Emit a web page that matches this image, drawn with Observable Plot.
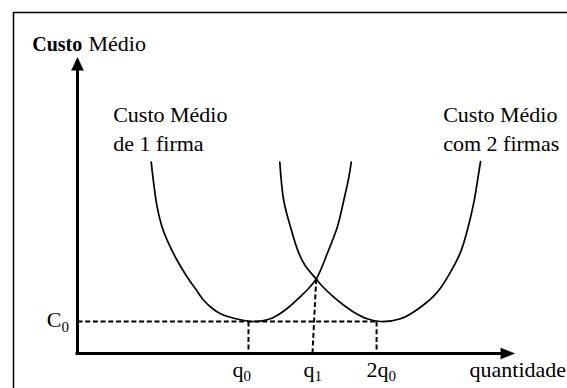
<!DOCTYPE html>
<html>
<head>
<meta charset="utf-8">
<script src="https://cdn.jsdelivr.net/npm/d3@7"></script>
<script src="https://cdn.jsdelivr.net/npm/@observablehq/plot@0.6"></script>
<style>
  html, body { margin: 0; padding: 0; background: #fff; }
  #chart svg { display: block; }
</style>
</head>
<body>
<div id="chart"></div>
<script>
// ---- values (quantity units: q0 = 10; cost units: C0 = 10) ----
const q0 = 10.0;
const q1 = 13.74;
const twoQ0 = 17.49;
const C0 = 10.0;
const intersectionX = 13.96;
const intersectionY = 23.28;
const xAxisEnd = 25.56;
const yAxisEnd = 92.5;

// Custo Médio de 1 firma
const curve1X = [4.31, 4.46, 4.66, 4.95, 5.34, 5.83, 6.42, 6.90, 7.39, 7.89, 8.36, 9.14, 9.92, 10.29, 10.82, 11.40, 12.26, 13.04, 13.51, 13.96, 14.33, 14.60, 15.19, 15.57, 15.87, 16.01];
const curve1Y = [59.78, 53.03, 45.72, 39.47, 34.28, 29.06, 23.84, 20.22, 16.56, 14.06, 12.41, 11.0, 10.16, 10.0, 10.22, 11.09, 14.06, 17.81, 20.31, 23.28, 27.5, 31.16, 39.47, 47.81, 55.09, 59.78];

// Custo Médio com 2 firmas
const curve2X = [11.83, 12.06, 12.46, 12.92, 13.31, 13.96, 14.33, 14.99, 15.67, 16.16, 16.94, 17.72, 18.89, 20.06, 21.04, 21.81, 22.40, 22.82, 23.18, 23.41, 23.57];
const curve2Y = [59.78, 47.81, 39.47, 31.66, 27.5, 23.28, 20.94, 17.59, 14.69, 12.91, 10.84, 10.0, 10.84, 14.47, 19.16, 25.41, 31.66, 38.97, 47.28, 54.59, 60.0];

// tick labels
const tickValues = [q0, q1, twoQ0];
const tickBase = ["q", "q", "2q"];
const tickSub = ["0", "1", "0"];
const yTickBase = "C";
const yTickSub = "0";

// texts
const yTitleBold = "Custo";
const yTitleRest = "Médio";
const xTitle = "quantidade";
const label1 = "Custo Médio\nde 1 firma";
const label2 = "Custo Médio\ncom 2 firmas";

// ---- build tables ----
const curve1 = curve1X.map((x, i) => ({x, y: curve1Y[i]}));
const curve2 = curve2X.map((x, i) => ({x, y: curve2Y[i]}));
const dashes = [
  {x1: 0, y1: C0, x2: twoQ0, y2: C0},
  {x1: q0, y1: C0, x2: q0, y2: 0},
  {x1: twoQ0, y1: C0, x2: twoQ0, y2: 0},
  {x1: intersectionX, y1: intersectionY, x2: q1, y2: 0}
];

const FONT = "Liberation Serif";
const FS = 22;
const SUB = 15;
const tickJunctionDx = [-5, 2, 12];
const T = {fontFamily: FONT, fill: "black", lineAnchor: "bottom"};

const tickMarks = [];
tickValues.forEach((v, i) => {
  tickMarks.push(Plot.text([tickBase[i]], {...T, x: () => v, y: () => 0, text: d => d, textAnchor: "end", dx: tickJunctionDx[i], dy: 23, fontSize: FS}));
  tickMarks.push(Plot.text([tickSub[i]], {...T, x: () => v, y: () => 0, text: d => d, textAnchor: "start", dx: tickJunctionDx[i], dy: 27, fontSize: SUB}));
});

const chart = Plot.plot({
  width: 567,
  height: 388,
  margin: 0,
  style: {fontFamily: FONT, background: "white", color: "black"},
  x: {domain: [0, 10], range: [77, 248], axis: null},
  y: {domain: [0, 10], range: [353, 321], axis: null},
  marks: [
    // outer border (left and top visible)
    Plot.frame({insetLeft: 13, insetTop: 12, insetRight: -10, insetBottom: -10, stroke: "black", strokeWidth: 1.5}),
    // dashed guides
    Plot.link(dashes, {x1: "x1", y1: "y1", x2: "x2", y2: "y2", stroke: "black", strokeWidth: 2, strokeDasharray: "5,2.7"}),
    // curves
    Plot.line(curve1, {x: "x", y: "y", curve: "catmull-rom", stroke: "black", strokeWidth: 1.7}),
    Plot.line(curve2, {x: "x", y: "y", curve: "catmull-rom", stroke: "black", strokeWidth: 1.7}),
    // axes
    Plot.ruleX([0], {y1: 0, y2: yAxisEnd - 3, stroke: "black", strokeWidth: 3, strokeLinecap: "square"}),
    Plot.ruleY([0], {x1: 0, x2: xAxisEnd - 0.6, stroke: "black", strokeWidth: 3, strokeLinecap: "square"}),
    Plot.vector([{x: 0, y: yAxisEnd}], {x: "x", y: "y", rotate: 0, length: 13, r: 6, shape: "spike", anchor: "end", fill: "black", stroke: "black", strokeWidth: 0.5}),
    Plot.vector([{x: xAxisEnd, y: 0}], {x: "x", y: "y", rotate: 90, length: 14, r: 5.5, shape: "spike", anchor: "end", fill: "black", stroke: "black", strokeWidth: 0.5}),
    // tick labels
    ...tickMarks,
    Plot.text([yTickBase], {...T, x: () => 0, y: () => C0, text: d => d, textAnchor: "end", dx: -16, dy: 5, fontSize: FS}),
    Plot.text([yTickSub], {...T, x: () => 0, y: () => C0, text: d => d, textAnchor: "start", dx: -16, dy: 10, fontSize: SUB}),
    // axis titles
    Plot.text([yTitleBold], {...T, frameAnchor: "top-left", text: d => d, textAnchor: "start", dx: 31.7, dy: 50, fontSize: 20, fontWeight: "bold"}),
    Plot.text([yTitleRest], {...T, frameAnchor: "top-left", text: d => d, textAnchor: "start", dx: 88, dy: 50, fontSize: FS}),
    Plot.text([xTitle], {...T, frameAnchor: "top-left", text: d => d, textAnchor: "start", dx: 469, dy: 376.5, fontSize: FS}),
    // curve labels
    Plot.text([label1], {...T, frameAnchor: "top-left", text: d => d, textAnchor: "start", lineHeight: 1.28, dx: 112.7, dy: 150, fontSize: FS}),
    Plot.text([label2], {...T, frameAnchor: "top-left", text: d => d, textAnchor: "start", lineHeight: 1.28, dx: 442.7, dy: 150, fontSize: FS})
  ]
});
document.getElementById("chart").appendChild(chart);
</script>
</body>
</html>
